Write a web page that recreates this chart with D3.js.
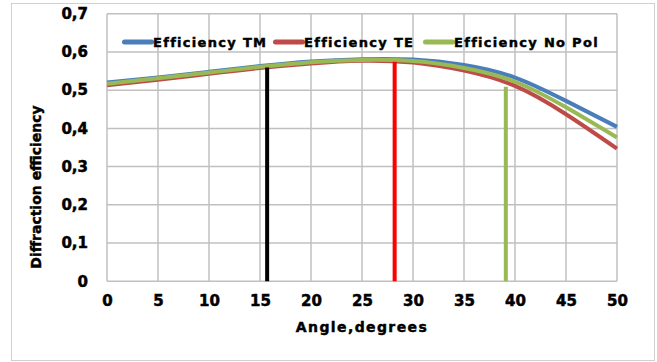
<!DOCTYPE html>
<html>
<head>
<meta charset="utf-8">
<script src="https://cdn.jsdelivr.net/npm/d3@7"></script>
<style>
  body { margin: 0; background: #fff; }
  svg text { font-family: "DejaVu Sans", "Liberation Sans", sans-serif; font-weight: bold; fill: #000; stroke: #000; stroke-width: 0.45px; }
</style>
</head>
<body>
<div id="container"></div>
<script>
// data
var angles = [0, 5, 10, 15, 20, 25, 30, 35, 40, 45, 50];
var effTM = [0.520, 0.533, 0.548, 0.563, 0.575, 0.581, 0.580, 0.566, 0.533, 0.472, 0.404];
var effTE = [0.513, 0.527, 0.543, 0.558, 0.570, 0.577, 0.572, 0.551, 0.511, 0.437, 0.347];
var effNoPol = [0.517, 0.531, 0.546, 0.561, 0.573, 0.579, 0.576, 0.558, 0.522, 0.455, 0.376];
var seriesNames = ['Efficiency TM', 'Efficiency TE', 'Efficiency No Pol'];
var seriesColors = ['#4a7ebb', '#be4b48', '#98b954'];

// vertical marker lines
var markerAngles = [15.7, 28.2, 39.1];
var markerTops = [0.559, 0.574, 0.509];
var markerColors = ['#000000', '#ff0000', '#98b954'];

var xTicks = [0, 5, 10, 15, 20, 25, 30, 35, 40, 45, 50];
var yTicks = [0, 0.1, 0.2, 0.3, 0.4, 0.5, 0.6, 0.7];

(function () {
    var W = 657, H = 362;
    var svg = d3.select('#container').append('svg')
        .attr('width', W).attr('height', H);

    // chart border
    svg.append('rect')
        .attr('x', 11.5).attr('y', 3.5)
        .attr('width', 643).attr('height', 357)
        .attr('fill', 'none').attr('stroke', '#d0d0d0').attr('stroke-width', 1);

    var x = d3.scaleLinear().domain([0, 50]).range([107, 617]);
    var y = d3.scaleLinear().domain([0, 0.7]).range([281.3, 13.7]);

    // grid
    svg.append('g').selectAll('line.v')
        .data(xTicks).enter().append('line')
        .attr('x1', d => x(d)).attr('x2', d => x(d))
        .attr('y1', y(0)).attr('y2', y(0.7))
        .attr('stroke', '#c0c0c0').attr('stroke-width', 1.5);
    svg.append('g').selectAll('line.h')
        .data(yTicks).enter().append('line')
        .attr('x1', x(0)).attr('x2', x(50))
        .attr('y1', d => y(d)).attr('y2', d => y(d))
        .attr('stroke', '#c0c0c0').attr('stroke-width', 1.5);

    // axes (labels only)
    var xAxis = svg.append('g')
        .attr('transform', 'translate(0,' + y(0) + ')')
        .call(d3.axisBottom(x).tickValues(xTicks).tickSize(0).tickPadding(14));
    var yAxis = svg.append('g')
        .attr('transform', 'translate(' + x(0) + ',0)')
        .call(d3.axisLeft(y).tickValues(yTicks).tickSize(0).tickPadding(19)
            .tickFormat(d => d === 0 ? '0' : d3.format('.1f')(d).replace('.', ',')));
    [xAxis, yAxis].forEach(a => {
        a.select('.domain').remove();
        a.selectAll('text').style('font-size', '15px')
            .style('font-family', '"DejaVu Sans", sans-serif').style('font-weight', 'bold')
            .attr('fill', '#000').style('stroke', '#000').style('stroke-width', '0.5px');
    });

    // axis titles
    svg.append('text')
        .attr('x', 362).attr('y', 332)
        .attr('text-anchor', 'middle')
        .style('font-size', '14px')
        .style('letter-spacing', '1.4px')
        .text('Angle,degrees');
    svg.append('text')
        .attr('transform', 'translate(41,187) rotate(-90)')
        .attr('text-anchor', 'middle')
        .style('font-size', '14px')
        .text('Diffraction efficiency');

    // curves
    var allSeries = [effTM, effTE, effNoPol];
    var line = d3.line()
        .x((d, i) => x(angles[i]))
        .y(d => y(d))
        .curve(d3.curveNatural);
    svg.append('g').selectAll('path')
        .data(allSeries).enter().append('path')
        .attr('d', d => line(d))
        .attr('fill', 'none')
        .attr('stroke', (d, i) => seriesColors[i])
        .attr('stroke-width', 4);

    // vertical markers
    svg.append('g').selectAll('line')
        .data(markerAngles).enter().append('line')
        .attr('x1', d => x(d)).attr('x2', d => x(d))
        .attr('y1', y(0)).attr('y2', (d, i) => y(markerTops[i]))
        .attr('stroke', (d, i) => markerColors[i])
        .attr('stroke-width', 4);

    // legend
    var legendX = [122, 273, 423];
    var leg = svg.append('g').selectAll('g')
        .data(seriesNames).enter().append('g')
        .attr('transform', (d, i) => 'translate(' + legendX[i] + ',42)');
    leg.append('rect')
        .attr('x', 0).attr('y', -2.5)
        .attr('width', 32).attr('height', 5)
        .attr('rx', 2.5)
        .attr('fill', (d, i) => seriesColors[i]);
    leg.append('text')
        .attr('x', 31).attr('y', 5)
        .style('font-size', '13px')
        .style('letter-spacing', '1.3px')
        .text(d => d);
})();
</script>
</body>
</html>
